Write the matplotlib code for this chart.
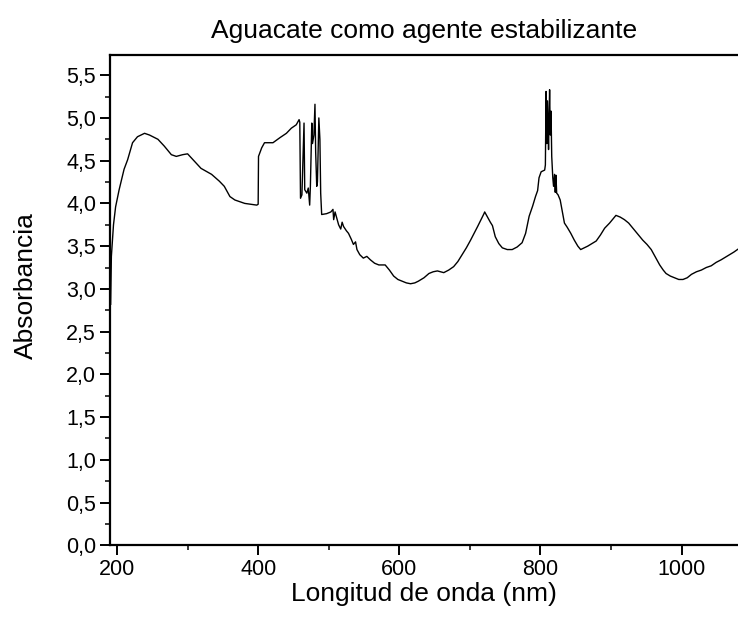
import numpy as np
import matplotlib
matplotlib.use('Agg')
import matplotlib.pyplot as plt
from matplotlib.ticker import MultipleLocator, FuncFormatter

# Aguacate - espectro UV-Vis

#  %%-----------------------------------------
wavelength = [191, 192, 195, 198, 203, 210, 215, 222, 229, 239, 246, 258, 267, 277,
              284, 293, 300, 310, 319, 334, 345, 352, 360, 367, 381, 398, 400, 400.5,
              405, 409, 421, 431, 440, 447, 454, 458, 459, 460, 462, 465, 466, 469,
              471, 473, 474, 476, 477, 479, 480.5, 481.5, 483, 484, 486, 487.5, 488.6,
              490, 497, 503, 506, 507, 509, 514, 517, 519, 521, 525, 528, 532, 535,
              538, 540, 544, 549, 554, 559, 565, 571, 580, 586, 592, 598, 604, 610,
              616, 622, 627, 635, 642, 648, 654, 663, 670, 677, 683, 689, 695, 701,
              706, 711, 717, 720, 721, 723, 725, 729, 732, 736, 741, 746, 753, 760,
              767, 774, 779, 784, 789, 793, 796, 798, 801, 806, 807, 808, 809, 810,
              811.5, 812, 813, 814, 815, 816, 817.5, 818.6, 820, 821, 822, 823, 825,
              828, 834, 838, 843, 848, 853, 857, 862, 867, 873, 879, 885, 891, 898,
              903, 907, 913, 919, 925, 931, 938, 945, 951, 957, 963, 969, 974, 978,
              984, 990, 996, 1002, 1008, 1014, 1021, 1028, 1035, 1042, 1049, 1056,
              1062, 1068, 1074, 1081, 1085]
absorbance = [2.82, 3.38, 3.75, 3.96, 4.16, 4.40, 4.51, 4.71, 4.78, 4.82, 4.80, 4.75,
              4.67, 4.57, 4.55, 4.57, 4.58, 4.49, 4.41, 4.34, 4.26, 4.20, 4.08, 4.04,
              4.00, 3.98, 3.99, 4.55, 4.65, 4.71, 4.71, 4.77, 4.82, 4.88, 4.92, 4.98,
              4.95, 4.06, 4.10, 4.94, 4.16, 4.12, 4.18, 3.98, 4.20, 4.94, 4.70, 4.80,
              5.16, 4.60, 4.20, 4.25, 5.00, 4.75, 4.12, 3.87, 3.88, 3.90, 3.93, 3.81,
              3.90, 3.75, 3.70, 3.78, 3.73, 3.68, 3.65, 3.58, 3.52, 3.55, 3.46, 3.40,
              3.36, 3.38, 3.34, 3.30, 3.28, 3.28, 3.22, 3.15, 3.11, 3.09, 3.07, 3.06,
              3.07, 3.09, 3.13, 3.18, 3.20, 3.21, 3.19, 3.22, 3.26, 3.32, 3.40, 3.48,
              3.57, 3.65, 3.73, 3.83, 3.88, 3.90, 3.87, 3.84, 3.78, 3.74, 3.61, 3.53,
              3.48, 3.46, 3.46, 3.49, 3.54, 3.65, 3.85, 3.97, 4.08, 4.15, 4.30, 4.37,
              4.39, 4.45, 5.31, 4.70, 5.20, 4.63, 4.90, 5.33, 4.80, 5.08, 4.55, 4.30,
              4.20, 4.34, 4.13, 4.33, 4.12, 4.10, 4.04, 3.77, 3.72, 3.65, 3.57, 3.50,
              3.46, 3.48, 3.50, 3.53, 3.56, 3.63, 3.71, 3.77, 3.82, 3.86, 3.84, 3.81,
              3.77, 3.71, 3.64, 3.57, 3.52, 3.46, 3.37, 3.28, 3.22, 3.18, 3.15, 3.13,
              3.11, 3.11, 3.13, 3.17, 3.20, 3.22, 3.25, 3.27, 3.31, 3.34, 3.37, 3.40,
              3.43, 3.47, 3.50]

#  %%-----------------------------------------
plt.rcParams['font.family'] = ['Liberation Sans', 'DejaVu Sans']

fig = plt.figure(figsize=(7.38, 6.2), dpi=100)
ax = fig.add_axes([0.149, 0.1205, 0.852, 0.7913])

ax.plot(wavelength, absorbance, color='black', lw=1.0)

ax.set_xlim(190, 1081)
ax.set_ylim(0, 5.74)

ax.xaxis.set_major_locator(MultipleLocator(200))
ax.xaxis.set_minor_locator(MultipleLocator(100))
ax.yaxis.set_major_locator(MultipleLocator(0.5))
ax.yaxis.set_minor_locator(MultipleLocator(0.25))
ax.yaxis.set_major_formatter(FuncFormatter(lambda v, pos: ('%.1f' % v).replace('.', ',')))

ax.spines['right'].set_visible(False)
for s in ['left', 'bottom', 'top']:
    ax.spines[s].set_linewidth(1.6)

ax.tick_params(which='major', direction='out', length=7, width=1.4, labelsize=15.5, pad=3)
ax.tick_params(which='minor', direction='out', length=3.5, width=1.1)
ax.tick_params(top=False, right=False)

ax.set_xlabel('Longitud de onda (nm)', fontsize=19, labelpad=1)
ax.set_ylabel('Absorbancia', fontsize=19)
ax.yaxis.set_label_coords(-0.115, 0.53)
ax.set_title('Aguacate como agente estabilizante', fontsize=19, pad=12)

plt.savefig('out.png', dpi=100)
